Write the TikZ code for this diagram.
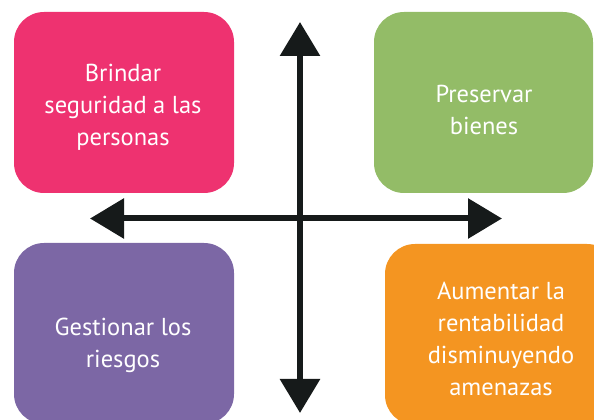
\documentclass[tikz,border=0pt]{standalone}
\usepackage{fontspec}
\setmainfont{PT Sans}
\usetikzlibrary{arrows.meta}
\definecolor{cpink}{HTML}{EE3270}
\definecolor{cgreen}{HTML}{93BC67}
\definecolor{cpurple}{HTML}{7C67A5}
\definecolor{corange}{HTML}{F49521}
\definecolor{carrow}{HTML}{161A1A}
\begin{document}
\begin{tikzpicture}[x=1pt,y=1pt,
  boxstyle/.style={rectangle,rounded corners=30pt,minimum width=220pt,minimum height=181pt,inner sep=0pt},
  lbl/.style={text=white,font=\fontsize{24.5}{32}\selectfont,align=center,inner sep=0pt},
  axis/.style={carrow,line width=6pt,{Triangle[length=34pt,width=39pt]}-{Triangle[length=34pt,width=39pt]}}]
\useasboundingbox (0,0) rectangle (594,420);
\begin{scope}
\clip (0,0) rectangle (594,420);
\node[boxstyle,fill=cpink] (b1) at (124,317.5) {};
\node[boxstyle,fill=cgreen,minimum width=219pt] (b2) at (483.5,317.5) {};
\node[boxstyle,fill=cpurple] (b3) at (124,86.5) {};
\node[boxstyle,fill=corange,minimum width=232pt] (b4) at (501,85.5) {};
\end{scope}
\node[lbl] (t1) at (123,313) {Brindar\\seguridad a las\\personas};
\node[lbl] (t2) at (484,310) {Preservar\\bienes};
\node[lbl] (t3) at (123,75) {Gestionar los\\riesgos};
\node[lbl] (t4) at (501,81) {Aumentar la\\rentabilidad\\disminuyendo\\amenazas};
\coordinate (vt) at (300,398);
\coordinate (vb) at (300,7);
\coordinate (hl) at (90,201.5);
\coordinate (hr) at (502,201.5);
\draw[axis] (vb) -- (vt);
\draw[axis] (hl) -- (hr);
\end{tikzpicture}
\end{document}
